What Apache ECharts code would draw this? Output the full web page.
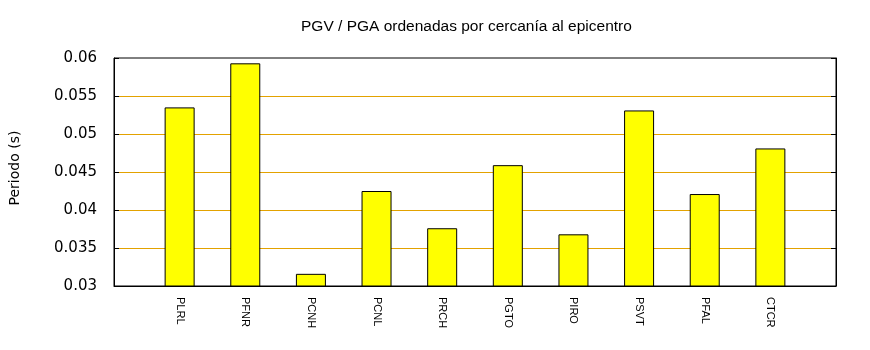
<!DOCTYPE html>
<html>
<head>
<meta charset="utf-8">
<script src="https://cdn.jsdelivr.net/npm/echarts@6/dist/echarts.min.js"></script>
<style>
  html, body { margin: 0; padding: 0; background: #fff; }
  #chart { width: 870px; height: 350px; }
</style>
</head>
<body>
<div id="chart"></div>
<script>
// Stations ordered by distance to the epicentre
const stations = ['PLRL', 'PFNR', 'PCNH', 'PCNL', 'PRCH', 'PGTO', 'PIRO', 'PSVT', 'PFAL', 'CTCR'];
// PGV / PGA ratio per station (s)
const periods = [0.0535, 0.0593, 0.0316, 0.0425, 0.0376, 0.0459, 0.0368, 0.0531, 0.0421, 0.0481];
const yTicks = [0.03, 0.035, 0.04, 0.045, 0.05, 0.055, 0.06];

const chart = echarts.init(document.getElementById('chart'), null, { renderer: 'canvas' });

const barData = periods.map((v, i) => [i + 1, v]);
const tickFont = 'DejaVu Sans';

chart.setOption({
  animation: false,
  backgroundColor: '#ffffff',
  title: {
    text: 'PGV / PGA ordenadas por cercanía al epicentro',
    left: 296,
    top: 14,
    textStyle: { fontFamily: 'Liberation Sans', fontSize: 15.5, fontWeight: 'normal', color: '#000' }
  },
  grid: {
    left: 112, right: 34, top: 58, bottom: 64,
    show: true, borderColor: '#000', borderWidth: 1, backgroundColor: 'transparent'
  },
  xAxis: {
    type: 'value',
    min: 0, max: stations.length + 1, interval: 1,
    splitLine: { show: false },
    axisTick: { show: false },
    axisLine: { show: true, lineStyle: { color: '#000', width: 1 } },
    axisLabel: {
      rotate: -90,
      margin: 11,
      fontFamily: 'Liberation Sans',
      fontSize: 11,
      color: '#000',
      formatter: v => (v >= 1 && v <= stations.length) ? stations[v - 1] : ''
    }
  },
  yAxis: [{
    type: 'value',
    min: yTicks[0], max: yTicks[yTicks.length - 1], interval: 0.005,
    name: 'Periodo (s)',
    nameLocation: 'middle',
    nameGap: 92,
    nameTextStyle: { fontFamily: tickFont, fontSize: 14, color: '#000', padding: [0, 0, 0, 8] },
    axisLine: { show: true, lineStyle: { color: '#000', width: 1 } },
    axisTick: { show: true, inside: true, length: 5, lineStyle: { color: '#000' } },
    axisLabel: {
      margin: 17,
      fontFamily: tickFont, fontSize: 15, color: '#000',
      formatter: v => String(+v.toFixed(3))
    },
    splitLine: { show: true, showMinLine: false, showMaxLine: false, lineStyle: { color: '#e3a200', width: 1 } }
  }, {
    type: 'value',
    position: 'right',
    min: yTicks[0], max: yTicks[yTicks.length - 1], interval: 0.005,
    axisLine: { show: true, lineStyle: { color: '#000', width: 1 } },
    axisTick: { show: true, inside: true, length: 5, lineStyle: { color: '#000' } },
    axisLabel: { show: false },
    splitLine: { show: false }
  }],
  series: [{
    type: 'bar',
    data: barData,
    barWidth: 30,
    clip: true,
    itemStyle: { color: '#ffff00', borderColor: '#000', borderWidth: 1 }
  }]
});
</script>
</body>
</html>
